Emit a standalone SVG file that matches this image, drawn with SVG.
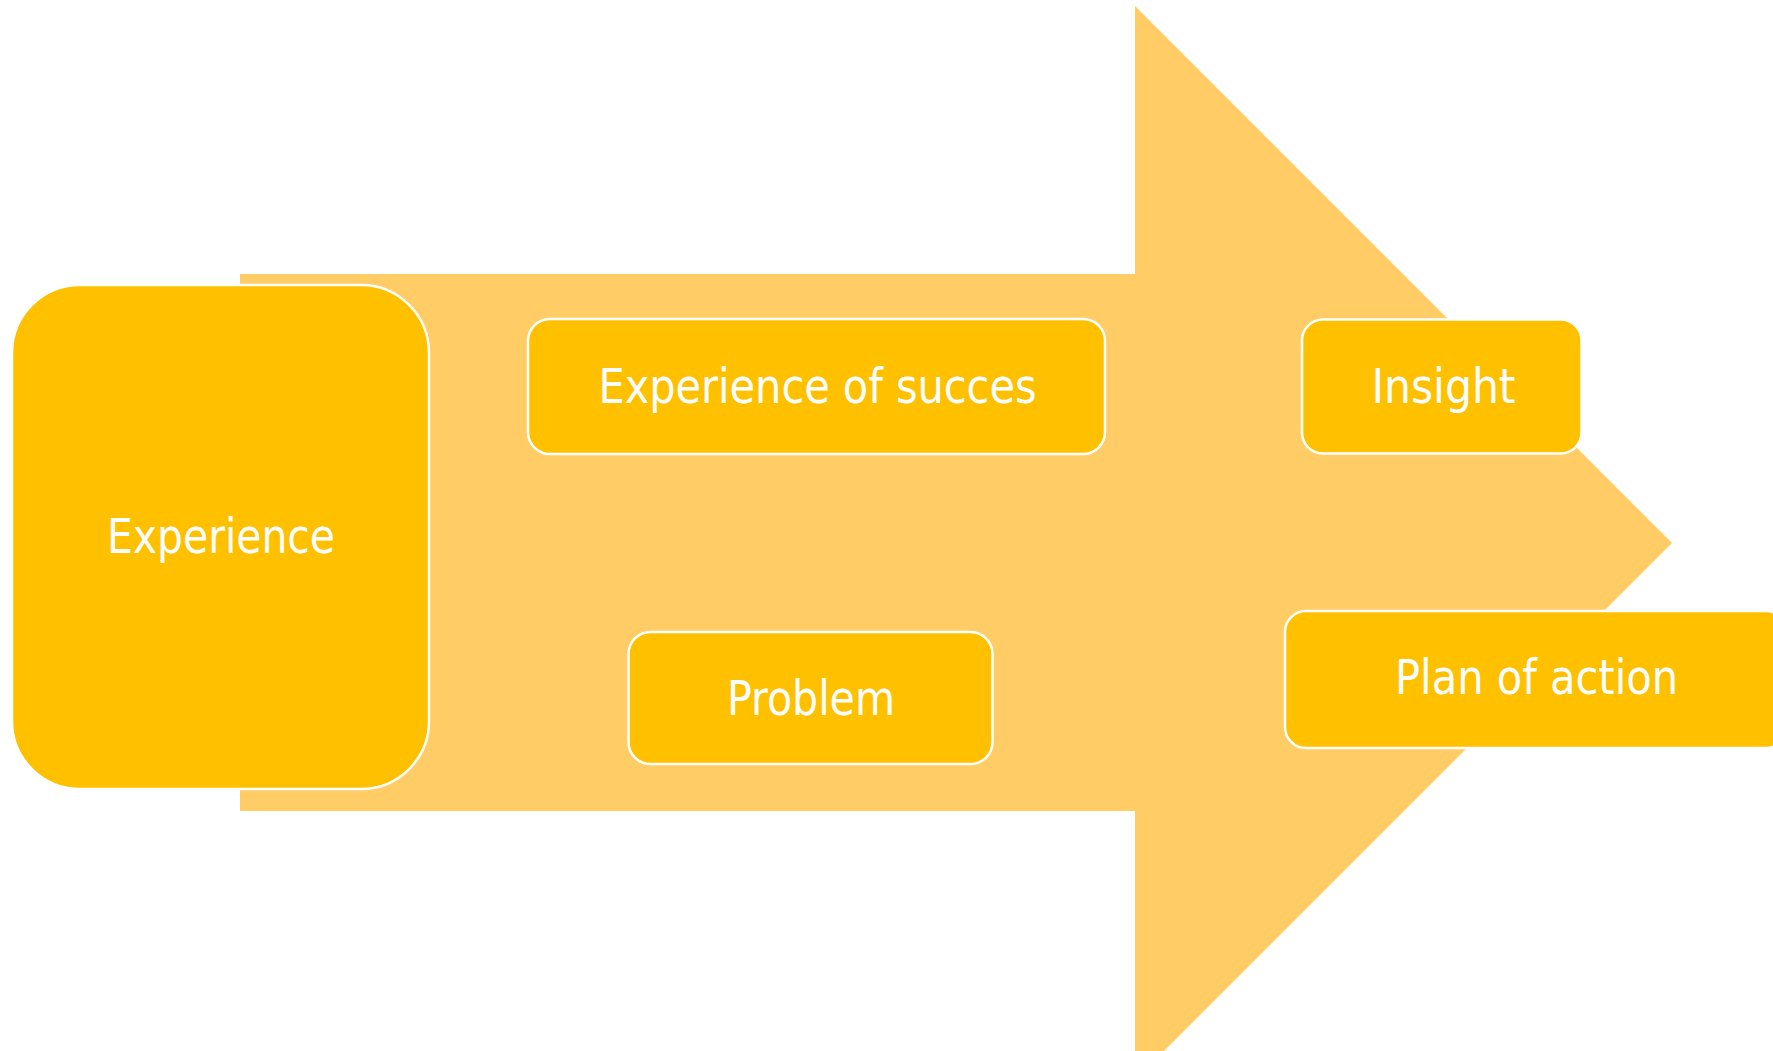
<svg xmlns="http://www.w3.org/2000/svg" width="1773" height="1051" viewBox="0 0 1773 1051">
<style>
.box{fill:#FFC000;stroke:#FFFFFF;stroke-width:2.5}
.lbl{fill:#FFFFFF;font-family:"DejaVu Sans Condensed","DejaVu Sans",sans-serif;font-stretch:condensed;font-size:48px;text-anchor:middle}
</style>
<rect width="1773" height="1051" fill="#FFFFFF"/>
<g id="arrow">
<polygon points="240,274 1135,274 1135,6 1672,543 1135,1080 1135,811 240,811" fill="#FFCC66"/>
</g>
<g id="connectors"></g>
<g id="node-experience">
<rect class="box" x="12" y="285" width="417" height="504" rx="68" ry="68"/>
<text class="lbl" x="221" y="553" textLength="228" lengthAdjust="spacingAndGlyphs">Experience</text>
</g>
<g id="node-succes">
<rect class="box" x="528" y="319" width="577" height="135" rx="22" ry="22"/>
<text class="lbl" x="817.5" y="403" textLength="438" lengthAdjust="spacingAndGlyphs">Experience of succes</text>
</g>
<g id="node-problem">
<rect class="box" x="628.5" y="632" width="364" height="132" rx="22" ry="22"/>
<text class="lbl" x="811" y="715" textLength="168" lengthAdjust="spacingAndGlyphs">Problem</text>
</g>
<g id="node-insight">
<rect class="box" x="1302" y="319.5" width="279.5" height="134" rx="21" ry="21"/>
<text class="lbl" x="1443.5" y="403" textLength="144" lengthAdjust="spacingAndGlyphs">Insight</text>
</g>
<g id="node-plan">
<rect class="box" x="1285" y="611" width="502" height="137" rx="21" ry="21"/>
<text class="lbl" x="1536.5" y="694" textLength="283" lengthAdjust="spacingAndGlyphs">Plan of action</text>
</g>
</svg>
